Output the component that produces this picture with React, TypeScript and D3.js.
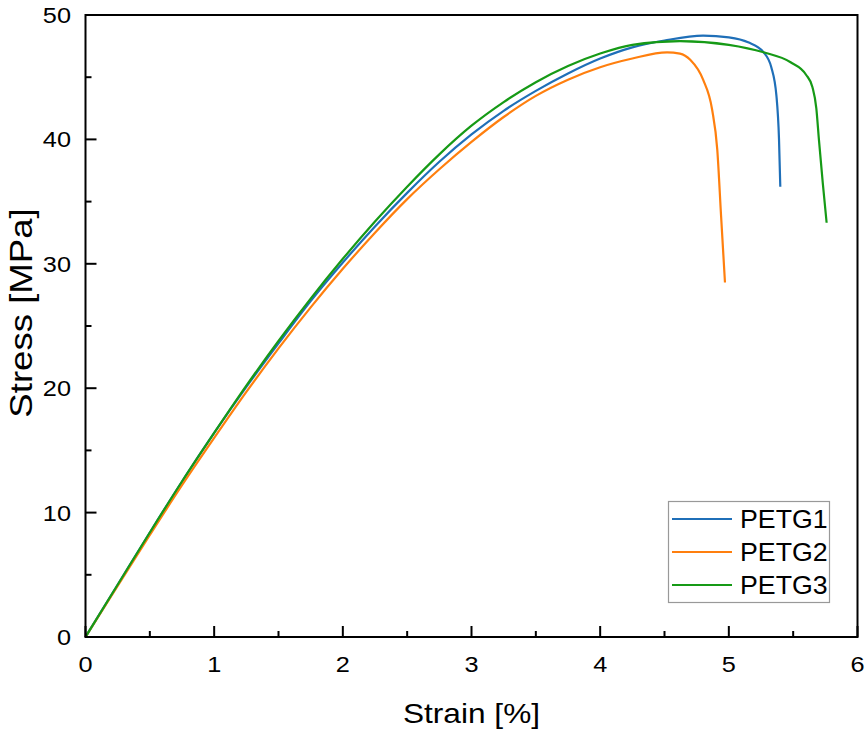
import React from "react";
import * as d3 from "d3";

const petg1X = [0, 0.25, 0.5, 0.75, 1, 1.25, 1.5, 1.75, 2, 2.25, 2.5, 2.75, 3, 3.25, 3.5, 3.75, 4, 4.25, 4.5, 4.8, 5.0, 5.15, 5.27, 5.33, 5.37, 5.39, 5.4];
const petg1Y = [0, 4.2, 8.4, 12.5, 16.4, 20.1, 23.6, 27.0, 30.1, 33.0, 35.7, 38.2, 40.4, 42.3, 43.9, 45.3, 46.5, 47.4, 47.95, 48.35, 48.2, 47.8, 47.0, 45.8, 43.5, 40.0, 36.2];

const petg2X = [0, 0.25, 0.5, 0.75, 1, 1.25, 1.5, 1.75, 2, 2.25, 2.5, 2.75, 3, 3.25, 3.5, 3.75, 4, 4.25, 4.52, 4.62, 4.7, 4.8, 4.87, 4.91, 4.94, 4.97];
const petg2Y = [0, 4.1, 8.2, 12.2, 16.0, 19.7, 23.2, 26.5, 29.6, 32.5, 35.2, 37.6, 39.8, 41.8, 43.5, 44.8, 45.8, 46.5, 47.0, 46.9, 46.4, 44.8, 42.4, 39.2, 33.8, 28.5];

const petg3X = [0, 0.25, 0.5, 0.75, 1, 1.25, 1.5, 1.75, 2, 2.25, 2.5, 2.75, 3, 3.25, 3.5, 3.75, 4, 4.25, 4.62, 5.0, 5.27, 5.48, 5.6, 5.65, 5.68, 5.7, 5.73, 5.76];
const petg3Y = [0, 4.2, 8.4, 12.5, 16.4, 20.2, 23.8, 27.2, 30.4, 33.4, 36.2, 38.8, 41.1, 43.0, 44.6, 45.9, 46.9, 47.6, 47.9, 47.6, 47.0, 46.2, 45.2, 44.2, 42.5, 40.0, 36.5, 33.3];

const seriesNames = ["PETG1", "PETG2", "PETG3"];
const seriesColors = ["#1f6fb8", "#ff7f0e", "#169a16"];
const xTicks = [0, 1, 2, 3, 4, 5, 6];
const yTicks = [0, 10, 20, 30, 40, 50];
const xMinor = [0.5, 1.5, 2.5, 3.5, 4.5, 5.5];
const yMinor = [5, 15, 25, 35, 45];

const W = 865, H = 731;
const FONT = "'Liberation Sans', Arial, Helvetica, sans-serif";

export default function App() {
  const x = d3.scaleLinear().domain([0, 6]).range([85.5, 857.5]);
  const y = d3.scaleLinear().domain([0, 50]).range([637, 15]);
  const data = [
    d3.zip(petg1X, petg1Y),
    d3.zip(petg2X, petg2Y),
    d3.zip(petg3X, petg3Y),
  ];
  const line = d3
    .line<number[]>()
    .x((d) => x(d[0]))
    .y((d) => y(d[1]))
    .curve(d3.curveMonotoneX);

  const x0 = x(0), x1 = x(6), y0 = y(0), y1 = y(50);

  return (
    <svg
      width={W}
      height={H}
      style={{ position: "absolute", left: 0, top: 0, background: "#fff" }}
      fontFamily={FONT}
    >
      <rect x={0} y={0} width={W} height={H} fill="#fff" />
      {data.map((d, i) => (
        <path key={i} d={line(d) || ""} fill="none" stroke={seriesColors[i]} strokeWidth={2.2} strokeLinejoin="round" />
      ))}
      <rect x={x0} y={y1} width={x1 - x0} height={y0 - y1} fill="none" stroke="#000" strokeWidth={2} />
      {xTicks.map((t) => (
        <g key={"xt" + t}>
          <line x1={x(t)} x2={x(t)} y1={y0} y2={y0 - 11} stroke="#000" strokeWidth={2} />
          <text
            transform={`translate(${x(t)},${672}) scale(1.15,1)`}
            textAnchor="middle"
            fontSize={22}
            fill="#000"
          >
            {t}
          </text>
        </g>
      ))}
      {xMinor.map((t) => (
        <line key={"xm" + t} x1={x(t)} x2={x(t)} y1={y0} y2={y0 - 6} stroke="#000" strokeWidth={2} />
      ))}
      {yTicks.map((t) => (
        <g key={"yt" + t}>
          <line x1={x0} x2={x0 + 11} y1={y(t)} y2={y(t)} stroke="#000" strokeWidth={2} />
          <text
            transform={`translate(${71},${y(t) + 8}) scale(1.15,1)`}
            textAnchor="end"
            fontSize={22}
            fill="#000"
          >
            {t}
          </text>
        </g>
      ))}
      {yMinor.map((t) => (
        <line key={"ym" + t} x1={x0} x2={x0 + 6} y1={y(t)} y2={y(t)} stroke="#000" strokeWidth={2} />
      ))}
      <text
        transform={`translate(${(x0 + x1) / 2},${723}) scale(1.13,1)`}
        textAnchor="middle"
        fontSize={28}
        fill="#000"
      >
        Strain [%]
      </text>
      <text
        transform={`translate(${32},${313}) rotate(-90) scale(1.18,1)`}
        textAnchor="middle"
        fontSize={31}
        fill="#000"
      >
        Stress [MPa]
      </text>
      <rect x={668.5} y={501.5} width={161} height={101} fill="#fff" stroke="#999" strokeWidth={1.2} />
      {seriesNames.map((n, i) => (
        <g key={n}>
          <line x1={672} x2={732} y1={519 + i * 33} y2={519 + i * 33} stroke={seriesColors[i]} strokeWidth={2.2} />
          <text
            transform={`translate(${740},${528 + i * 33}) scale(1.07,1)`}
            fontSize={25}
            fill="#000"
          >
            {n}
          </text>
        </g>
      ))}
    </svg>
  );
}
